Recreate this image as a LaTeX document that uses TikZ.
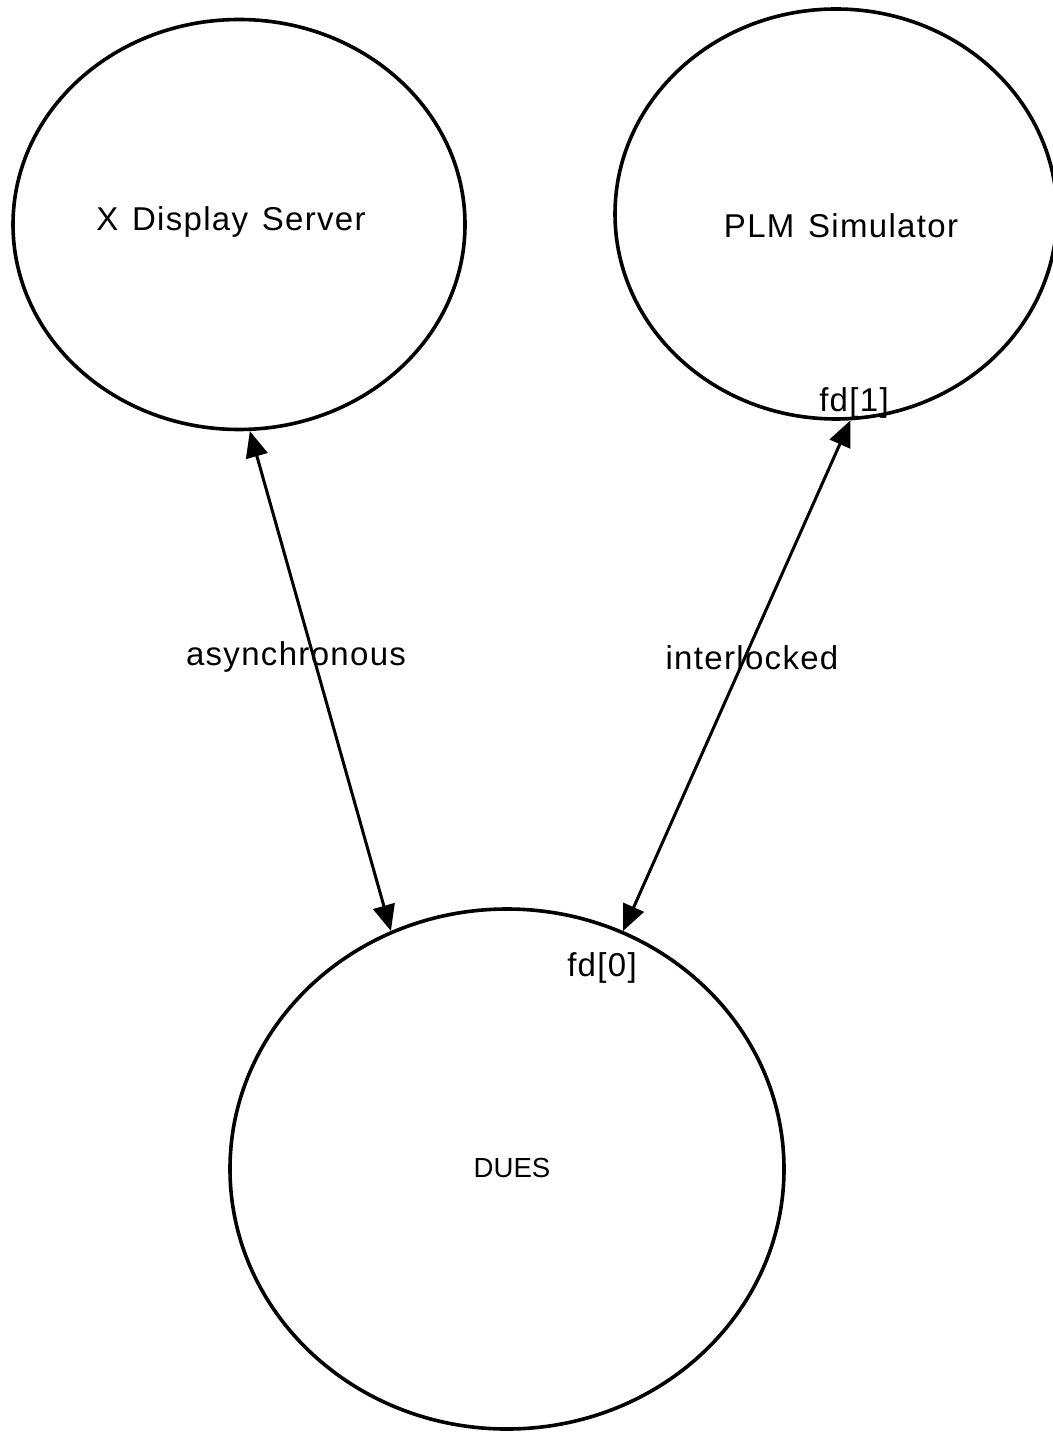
\documentclass[tikz,border=0pt]{standalone}
\usepackage{fontspec}
\setmainfont{Liberation Sans}[WordSpace=1.3]
\usetikzlibrary{arrows.meta,shapes.geometric}
\begin{document}
\begin{tikzpicture}[x=0.5pt,y=-0.5pt,
  proc/.style={ellipse, draw, line width=1.8pt, inner sep=0pt},
  link/.style={{Triangle[length=13pt,width=11pt]}-{Triangle[length=13pt,width=11pt]}, line width=1.5pt},
  lbl/.style={inner sep=0pt, font=\fontsize{16.5}{18}\selectfont\addfontfeatures{LetterSpace=4}},
  small/.style={inner sep=0pt, font=\fontsize{13.8}{16}\selectfont}]
\useasboundingbox (0,0) rectangle (1053,1433);

% processes
\node[proc, minimum width=226pt, minimum height=205pt] (xds) at (239,224.5) {};
\node[proc, minimum width=221pt, minimum height=205pt] (plm) at (836,214) {};
\node[proc, minimum width=277pt, minimum height=260pt] (dues) at (507,1169) {};

% process names and descriptor labels
\node[lbl] (xdsname) at (231,222) {X Display Server};
\node[lbl] (plmname) at (841,226) {PLM Simulator};
\node[small] (duesname) at (512,1168) {DUES};
\node[lbl] (fd1) at (854,403) {fd[1]};
\node[lbl] (fd0) at (602,968) {fd[0]};

% connections
\draw[link] (xds.-87) -- (dues.116);
\draw[link] (plm.-86.7) -- (dues.64.4);

% connection kinds
\node[lbl] (async) at (296,657) {asynchronous};
\node[lbl] (inter) at (752,658) {interlocked};
\end{tikzpicture}
\end{document}
